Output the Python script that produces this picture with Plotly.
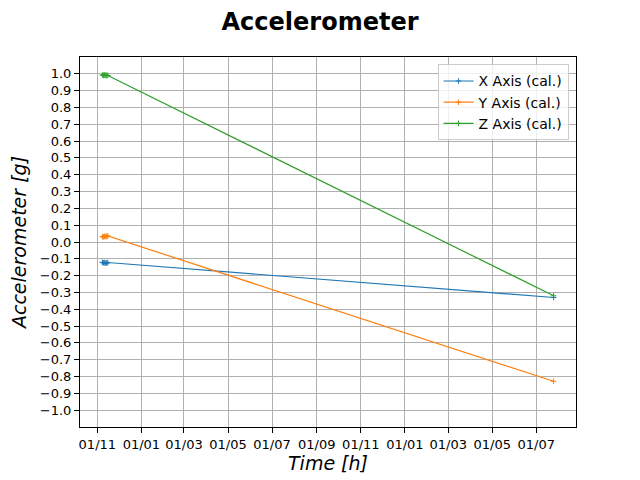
import plotly.graph_objects as go

times = ["2022-11-08 00:00", "2022-11-09 06:00", "2022-11-10 12:00", "2022-11-11 18:00",
         "2022-11-13 00:00", "2022-11-14 06:00", "2022-11-15 12:00", "2024-07-25 00:00"]
x_axis = [-0.121, -0.124, -0.122, -0.126, -0.123, -0.125, -0.122, -0.330]
y_axis = [0.032, 0.030, 0.034, 0.031, 0.035, 0.033, 0.036, -0.828]
z_axis = [0.993, 0.990, 0.994, 0.991, 0.989, 0.992, 0.990, -0.320]
y_ticks = [-1.0, -0.9, -0.8, -0.7, -0.6, -0.5, -0.4, -0.3, -0.2, -0.1, 0.0,
           0.1, 0.2, 0.3, 0.4, 0.5, 0.6, 0.7, 0.8, 0.9, 1.0]

names = ["X Axis (cal.)", "Y Axis (cal.)", "Z Axis (cal.)"]
colors = ["#1f77b4", "#ff7f0e", "#2ca02c"]
series = [x_axis, y_axis, z_axis]

fig = go.Figure()
for name, col, vals in zip(names, colors, series):
    fig.add_trace(go.Scatter(
        x=times, y=vals, name=name, mode="lines+markers",
        line=dict(color=col, width=1.2),
        marker=dict(symbol="cross-thin", size=4, line=dict(color=col, width=1), color=col),
    ))

font = "DejaVu Sans"
fig.update_layout(
    width=632, height=472,
    margin=dict(l=72, r=64, t=49, b=53, autoexpand=False),
    plot_bgcolor="white", paper_bgcolor="white",
    font=dict(family=font, size=13, color="black"),
    title=dict(text="<b>Accelerometer</b>", x=0.4937, xanchor="center", y=0.972, yanchor="middle",
               font=dict(family=font, size=24, color="black")),
    legend=dict(x=0.985, y=0.98, xanchor="right", yanchor="top",
                bgcolor="rgba(255,255,255,0.8)", bordercolor="#cccccc", borderwidth=1,
                font=dict(family=font, size=14), itemwidth=30, tracegroupgap=0),
    showlegend=True,
)
fig.update_xaxes(
    type="date", range=["2022-10-08", "2024-08-25"],
    tick0="2022-11-01", dtick="M2", tickformat="%d/%m",
    showgrid=True, gridcolor="#b0b0b0", gridwidth=1,
    showline=True, linecolor="black", linewidth=1, mirror=True,
    ticks="outside", ticklen=5, tickcolor="black",
    title=dict(text="<i>Time [h]</i>", font=dict(family=font, size=19), standoff=6),
    zeroline=False, automargin=False,
)
fig.update_yaxes(
    range=[-1.1, 1.1], tickvals=y_ticks, tickformat=".1f",
    showgrid=True, gridcolor="#b0b0b0", gridwidth=1,
    showline=True, linecolor="black", linewidth=1, mirror=True,
    ticks="outside", ticklen=5, tickcolor="black",
    title=dict(text="<i>Accelerometer [g]</i>", font=dict(family=font, size=19), standoff=8),
    zeroline=False, automargin=False,
)
fig.write_html("out.html")
